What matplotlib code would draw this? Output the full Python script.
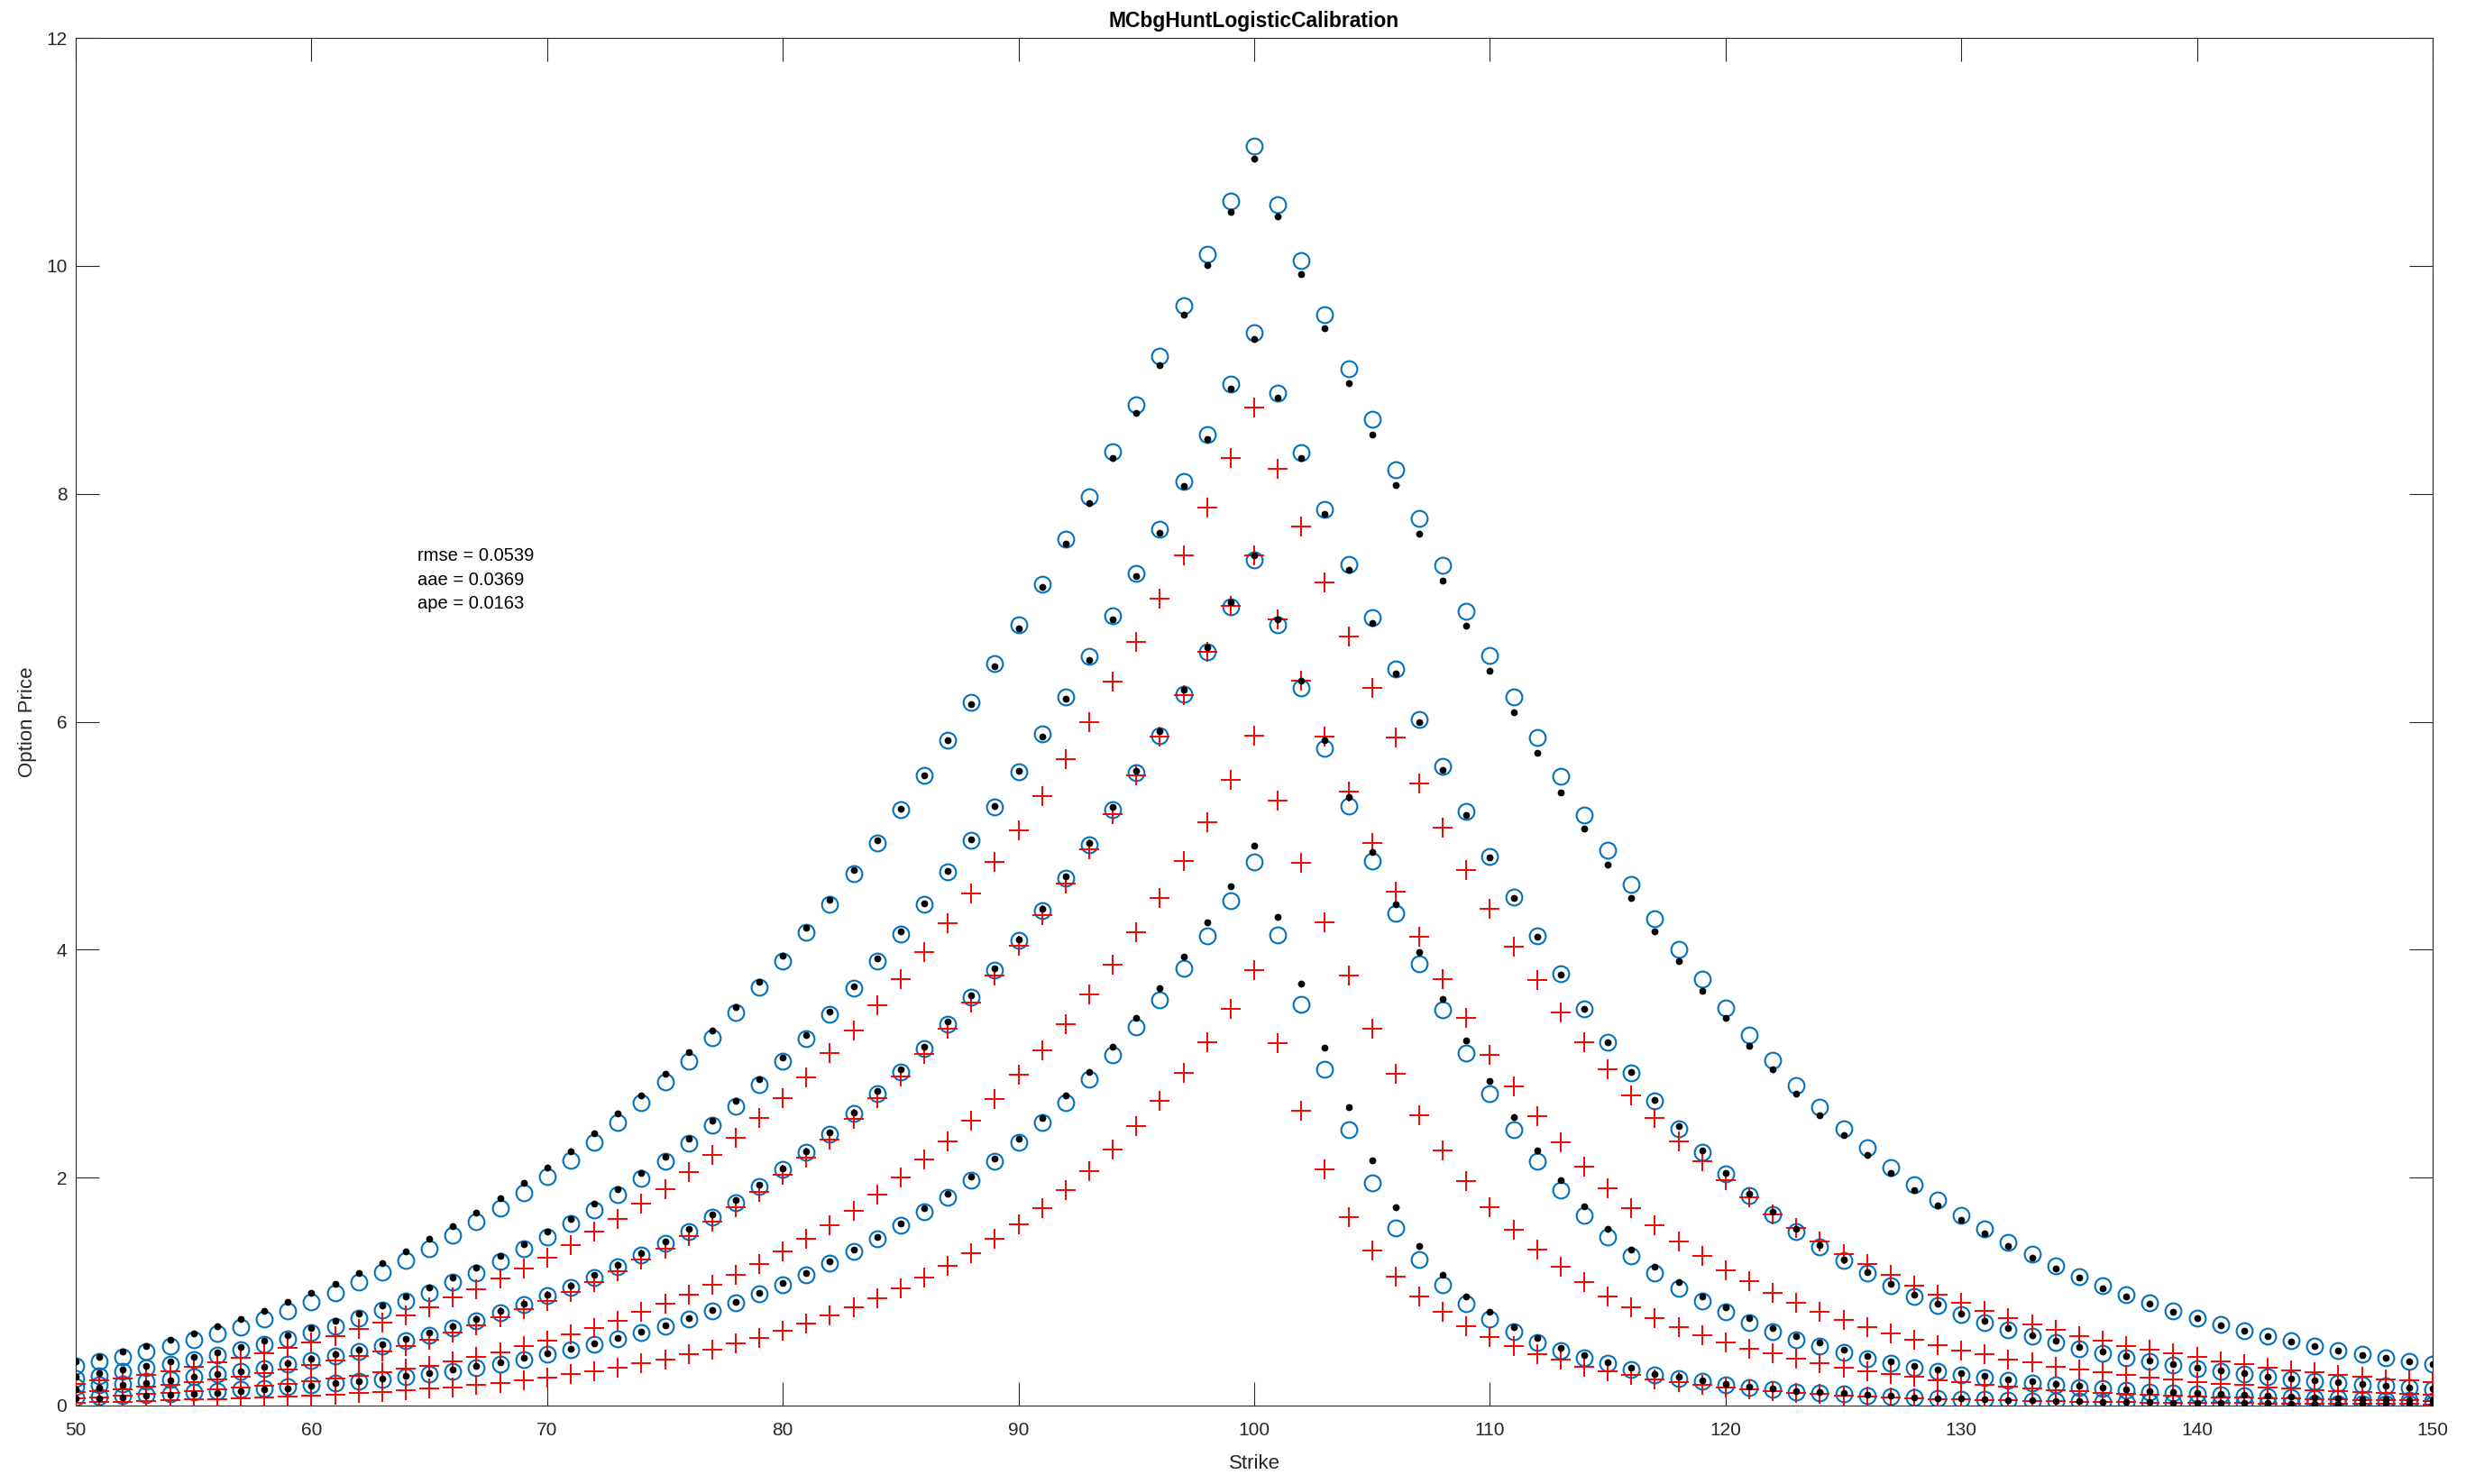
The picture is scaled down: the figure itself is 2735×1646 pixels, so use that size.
import numpy as np
import matplotlib
matplotlib.use("Agg")
import matplotlib.pyplot as plt

# strikes 50..150, one quote per strike
strikes = list(range(50, 151))

# curve 1 (longest maturity)
model_1 = [0.345, 0.39, 0.43, 0.474, 0.52, 0.574, 0.632, 0.692, 0.758, 0.83,
           0.91, 0.99, 1.08, 1.17, 1.27, 1.376, 1.495, 1.61, 1.73, 1.87,
           2.01, 2.15, 2.31, 2.48, 2.66, 2.84, 3.025, 3.23, 3.45, 3.67,
           3.90, 4.15, 4.40, 4.67, 4.94, 5.23, 5.53, 5.84, 6.17, 6.51,
           6.85, 7.21, 7.60, 7.97, 8.37, 8.78, 9.21, 9.65, 10.10, 10.57,
           11.05, 10.54, 10.05, 9.57, 9.10, 8.65, 8.21, 7.78, 7.37, 6.97,
           6.58, 6.22, 5.86, 5.52, 5.18, 4.87, 4.57, 4.27, 4.00, 3.74,
           3.49, 3.25, 3.03, 2.81, 2.62, 2.43, 2.26, 2.09, 1.94, 1.80,
           1.67, 1.55, 1.43, 1.33, 1.23, 1.13, 1.05, 0.97, 0.90, 0.83,
           0.77, 0.713, 0.66, 0.613, 0.568, 0.526, 0.486, 0.45, 0.42, 0.39, 0.363]
market_1 = [0.39, 0.43, 0.476, 0.526, 0.579, 0.634, 0.697, 0.763, 0.83, 0.91,
            0.987, 1.07, 1.16, 1.25, 1.355, 1.46, 1.574, 1.69, 1.82, 1.95,
            2.09, 2.23, 2.39, 2.56, 2.725, 2.91, 3.10, 3.29, 3.50, 3.72,
            3.95, 4.19, 4.44, 4.70, 4.96, 5.24, 5.53, 5.84, 6.155, 6.49,
            6.82, 7.18, 7.56, 7.92, 8.31, 8.71, 9.13, 9.57, 10.01, 10.47,
            10.94, 10.43, 9.93, 9.45, 8.97, 8.52, 8.08, 7.65, 7.24, 6.84,
            6.45, 6.08, 5.73, 5.38, 5.06, 4.75, 4.45, 4.16, 3.90, 3.64,
            3.40, 3.16, 2.95, 2.74, 2.55, 2.37, 2.20, 2.04, 1.89, 1.76,
            1.63, 1.51, 1.40, 1.30, 1.20, 1.12, 1.03, 0.96, 0.89, 0.82,
            0.765, 0.705, 0.655, 0.607, 0.563, 0.52, 0.482, 0.446, 0.416, 0.386, 0.36]
other_1 = [0.192, 0.218, 0.237, 0.27, 0.30, 0.337, 0.376, 0.416, 0.455, 0.503,
           0.553, 0.608, 0.67, 0.726, 0.79, 0.863, 0.947, 1.02, 1.113, 1.205,
           1.30, 1.41, 1.525, 1.64, 1.77, 1.90, 2.05, 2.20, 2.35, 2.52,
           2.70, 2.88, 3.09, 3.29, 3.51, 3.74, 3.975, 4.23, 4.49, 4.77,
           5.05, 5.35, 5.67, 6.00, 6.35, 6.70, 7.08, 7.46, 7.88, 8.31,
           8.76, 8.22, 7.71, 7.22, 6.75, 6.30, 5.86, 5.46, 5.07, 4.70,
           4.36, 4.03, 3.73, 3.45, 3.19, 2.95, 2.72, 2.52, 2.32, 2.14,
           1.98, 1.83, 1.68, 1.56, 1.44, 1.33, 1.24, 1.145, 1.055, 0.976,
           0.90, 0.834, 0.77, 0.713, 0.665, 0.613, 0.573, 0.526, 0.494, 0.455,
           0.424, 0.39, 0.36, 0.334, 0.31, 0.289, 0.27, 0.25, 0.232, 0.218, 0.205]

# curve 2
model_2 = [0.24, 0.263, 0.297, 0.33, 0.363, 0.40, 0.44, 0.487, 0.534, 0.587,
           0.64, 0.70, 0.766, 0.837, 0.916, 0.987, 1.08, 1.166, 1.266, 1.376,
           1.48, 1.60, 1.72, 1.85, 1.99, 2.14, 2.30, 2.46, 2.63, 2.82,
           3.02, 3.22, 3.43, 3.66, 3.90, 4.14, 4.40, 4.68, 4.96, 5.25,
           5.56, 5.89, 6.22, 6.57, 6.93, 7.30, 7.69, 8.11, 8.52, 8.96,
           9.41, 8.88, 8.36, 7.86, 7.38, 6.91, 6.46, 6.02, 5.61, 5.21,
           4.82, 4.46, 4.12, 3.79, 3.48, 3.19, 2.92, 2.67, 2.43, 2.22,
           2.03, 1.84, 1.68, 1.53, 1.39, 1.27, 1.16, 1.05, 0.96, 0.876,
           0.80, 0.726, 0.666, 0.608, 0.553, 0.50, 0.46, 0.42, 0.384, 0.355,
           0.324, 0.30, 0.279, 0.253, 0.232, 0.216, 0.20, 0.184, 0.171, 0.158, 0.145]
market_2 = [0.25, 0.284, 0.316, 0.35, 0.384, 0.43, 0.47, 0.516, 0.568, 0.62,
            0.68, 0.745, 0.81, 0.88, 0.955, 1.034, 1.12, 1.213, 1.31, 1.416,
            1.525, 1.64, 1.77, 1.90, 2.04, 2.18, 2.34, 2.50, 2.67, 2.86,
            3.05, 3.25, 3.46, 3.68, 3.92, 4.16, 4.41, 4.69, 4.97, 5.26,
            5.57, 5.87, 6.20, 6.54, 6.90, 7.28, 7.66, 8.07, 8.48, 8.92,
            9.36, 8.84, 8.31, 7.82, 7.33, 6.87, 6.42, 6.00, 5.58, 5.18,
            4.81, 4.45, 4.11, 3.78, 3.48, 3.19, 2.93, 2.68, 2.45, 2.24,
            2.04, 1.86, 1.70, 1.55, 1.41, 1.28, 1.17, 1.07, 0.97, 0.89,
            0.81, 0.74, 0.68, 0.62, 0.566, 0.515, 0.474, 0.434, 0.397, 0.363,
            0.33, 0.305, 0.282, 0.257, 0.236, 0.219, 0.203, 0.187, 0.173, 0.16, 0.147]
other_2 = [0.118, 0.13, 0.145, 0.163, 0.183, 0.207, 0.23, 0.257, 0.285, 0.318,
           0.353, 0.392, 0.435, 0.478, 0.525, 0.577, 0.638, 0.703, 0.773, 0.843,
           0.921, 0.998, 1.083, 1.178, 1.278, 1.378, 1.488, 1.614, 1.738, 1.878,
           2.025, 2.177, 2.337, 2.517, 2.697, 2.887, 3.087, 3.307, 3.537, 3.777,
           4.037, 4.30, 4.58, 4.88, 5.19, 5.53, 5.87, 6.235, 6.61, 7.02,
           7.46, 6.90, 6.36, 5.87, 5.39, 4.94, 4.51, 4.11, 3.74, 3.40,
           3.08, 2.80, 2.54, 2.31, 2.10, 1.91, 1.73, 1.58, 1.44, 1.31,
           1.19, 1.09, 0.99, 0.90, 0.82, 0.755, 0.69, 0.63, 0.58, 0.53,
           0.486, 0.447, 0.407, 0.376, 0.344, 0.316, 0.292, 0.265, 0.245, 0.226,
           0.205, 0.192, 0.179, 0.16, 0.147, 0.137, 0.13, 0.122, 0.113, 0.104, 0.096]

# curve 3
model_3 = [0.166, 0.179, 0.192, 0.21, 0.23, 0.253, 0.275, 0.30, 0.327, 0.36,
           0.395, 0.434, 0.477, 0.52, 0.566, 0.618, 0.68, 0.745, 0.815, 0.885,
           0.963, 1.04, 1.125, 1.22, 1.32, 1.42, 1.53, 1.656, 1.78, 1.92,
           2.07, 2.22, 2.38, 2.56, 2.74, 2.93, 3.13, 3.35, 3.58, 3.82,
           4.08, 4.34, 4.63, 4.92, 5.23, 5.55, 5.88, 6.24, 6.61, 7.01,
           7.42, 6.85, 6.30, 5.77, 5.26, 4.78, 4.32, 3.88, 3.47, 3.09,
           2.74, 2.42, 2.14, 1.89, 1.67, 1.48, 1.31, 1.16, 1.03, 0.92,
           0.82, 0.73, 0.65, 0.58, 0.52, 0.468, 0.415, 0.37, 0.33, 0.30,
           0.27, 0.245, 0.218, 0.20, 0.179, 0.16, 0.147, 0.132, 0.121, 0.11,
           0.102, 0.094, 0.087, 0.079, 0.072, 0.066, 0.06, 0.055, 0.05, 0.046, 0.042]
market_3 = [0.145, 0.16, 0.179, 0.20, 0.224, 0.25, 0.276, 0.303, 0.337, 0.368,
            0.408, 0.447, 0.49, 0.534, 0.587, 0.64, 0.697, 0.758, 0.83, 0.897,
            0.975, 1.056, 1.147, 1.234, 1.334, 1.44, 1.55, 1.68, 1.80, 1.94,
            2.08, 2.23, 2.40, 2.57, 2.76, 2.95, 3.15, 3.37, 3.60, 3.84,
            4.09, 4.36, 4.64, 4.94, 5.25, 5.57, 5.92, 6.28, 6.65, 7.05,
            7.46, 6.90, 6.36, 5.84, 5.34, 4.86, 4.40, 3.98, 3.57, 3.20,
            2.85, 2.53, 2.24, 1.98, 1.75, 1.55, 1.37, 1.22, 1.08, 0.96,
            0.86, 0.77, 0.68, 0.61, 0.55, 0.487, 0.436, 0.39, 0.35, 0.315,
            0.284, 0.258, 0.232, 0.21, 0.188, 0.171, 0.155, 0.14, 0.13, 0.118,
            0.108, 0.10, 0.092, 0.084, 0.077, 0.07, 0.064, 0.059, 0.054, 0.049, 0.045]
other_3 = [0.066, 0.074, 0.087, 0.10, 0.113, 0.126, 0.142, 0.158, 0.171, 0.187,
           0.21, 0.237, 0.258, 0.29, 0.324, 0.35, 0.39, 0.43, 0.468, 0.52,
           0.568, 0.625, 0.68, 0.744, 0.82, 0.89, 0.975, 1.06, 1.15, 1.24,
           1.35, 1.46, 1.58, 1.71, 1.85, 2.00, 2.16, 2.32, 2.50, 2.69,
           2.90, 3.12, 3.35, 3.61, 3.87, 4.15, 4.45, 4.78, 5.12, 5.49,
           5.88, 5.31, 4.76, 4.24, 3.77, 3.31, 2.91, 2.55, 2.24, 1.97,
           1.74, 1.54, 1.37, 1.22, 1.08, 0.96, 0.86, 0.77, 0.69, 0.62,
           0.555, 0.50, 0.455, 0.41, 0.37, 0.33, 0.30, 0.275, 0.25, 0.225,
           0.205, 0.185, 0.168, 0.153, 0.138, 0.125, 0.113, 0.102, 0.093, 0.086,
           0.08, 0.074, 0.069, 0.064, 0.06, 0.056, 0.053, 0.05, 0.047, 0.045, 0.043]

# curve 4 (shortest maturity)
model_4 = [0.072, 0.08, 0.088, 0.097, 0.106, 0.116, 0.127, 0.139, 0.152, 0.166,
           0.18, 0.195, 0.212, 0.23, 0.252, 0.276, 0.302, 0.33, 0.362, 0.405,
           0.45, 0.494, 0.54, 0.588, 0.64, 0.697, 0.76, 0.83, 0.90, 0.98,
           1.06, 1.15, 1.25, 1.35, 1.46, 1.58, 1.70, 1.83, 1.98, 2.14,
           2.31, 2.48, 2.66, 2.86, 3.08, 3.32, 3.56, 3.84, 4.12, 4.43,
           4.77, 4.13, 3.52, 2.95, 2.42, 1.95, 1.56, 1.28, 1.06, 0.89,
           0.76, 0.65, 0.55, 0.48, 0.42, 0.37, 0.32, 0.27, 0.24, 0.21,
           0.18, 0.16, 0.14, 0.12, 0.11, 0.10, 0.09, 0.08, 0.07, 0.063,
           0.057, 0.052, 0.047, 0.043, 0.039, 0.036, 0.033, 0.03, 0.028, 0.026,
           0.024, 0.022, 0.02, 0.019, 0.017, 0.016, 0.015, 0.014, 0.013, 0.012, 0.011]
market_4 = [0.06, 0.066, 0.074, 0.087, 0.095, 0.105, 0.113, 0.126, 0.14, 0.153,
            0.174, 0.197, 0.213, 0.237, 0.258, 0.284, 0.316, 0.345, 0.376, 0.416,
            0.455, 0.497, 0.543, 0.592, 0.645, 0.703, 0.767, 0.838, 0.91, 0.99,
            1.075, 1.165, 1.265, 1.37, 1.48, 1.60, 1.73, 1.86, 2.01, 2.17,
            2.34, 2.52, 2.72, 2.93, 3.15, 3.40, 3.66, 3.94, 4.24, 4.56,
            4.91, 4.29, 3.70, 3.14, 2.62, 2.15, 1.74, 1.40, 1.15, 0.96,
            0.82, 0.69, 0.59, 0.51, 0.44, 0.38, 0.33, 0.28, 0.25, 0.22,
            0.19, 0.17, 0.15, 0.13, 0.12, 0.11, 0.095, 0.085, 0.075, 0.067,
            0.06, 0.055, 0.05, 0.045, 0.041, 0.038, 0.035, 0.032, 0.03, 0.027,
            0.025, 0.023, 0.021, 0.02, 0.018, 0.017, 0.016, 0.015, 0.014, 0.013, 0.012]
other_4 = [0.026, 0.029, 0.034, 0.04, 0.047, 0.053, 0.057, 0.066, 0.074, 0.082,
           0.09, 0.098, 0.108, 0.12, 0.133, 0.147, 0.162, 0.18, 0.20, 0.222,
           0.247, 0.275, 0.303, 0.334, 0.372, 0.406, 0.453, 0.494, 0.547, 0.594,
           0.656, 0.72, 0.79, 0.86, 0.94, 1.025, 1.125, 1.23, 1.34, 1.46,
           1.59, 1.73, 1.89, 2.06, 2.25, 2.45, 2.67, 2.92, 3.19, 3.48,
           3.82, 3.18, 2.59, 2.07, 1.65, 1.36, 1.13, 0.96, 0.82, 0.70,
           0.60, 0.52, 0.45, 0.40, 0.34, 0.30, 0.265, 0.23, 0.205, 0.18,
           0.16, 0.14, 0.125, 0.11, 0.10, 0.09, 0.08, 0.072, 0.065, 0.059,
           0.053, 0.048, 0.044, 0.04, 0.037, 0.034, 0.031, 0.029, 0.027, 0.025,
           0.023, 0.021, 0.02, 0.018, 0.017, 0.016, 0.015, 0.014, 0.013, 0.012, 0.011]

x_ticks = [50, 60, 70, 80, 90, 100, 110, 120, 130, 140, 150]
y_ticks = [0, 2, 4, 6, 8, 10, 12]
stats_text = "rmse = 0.0539\naae = 0.0369\nape = 0.0163"

plt.rcParams['font.family'] = ['Liberation Sans', 'DejaVu Sans']
axis_col = '#262626'

W, H = 2735, 1646
fig = plt.figure(figsize=(W / 100, H / 100), dpi=100)
ax = fig.add_axes([84 / W, 1 - 1559 / H, (2698 - 84) / W, (1559 - 42) / H])

model = [model_1, model_2, model_3, model_4]
market = [market_1, market_2, market_3, market_4]
other = [other_1, other_2, other_3, other_4]

# blue circles, red crosses on top, black dots last
for m in model:
    ax.plot(strikes, m, 'o', ms=12.8, mfc='none', mec='#0072BD', mew=1.5, zorder=2)
for o in other:
    ax.plot(strikes, o, '+', ms=16.5, mec='#FF0000', mew=1.4, zorder=3)
for d in market:
    ax.plot(strikes, d, 'o', ms=5.6, mfc='black', mec='black', mew=0, zorder=4)

ax.set_xlim(50, 150)
ax.set_ylim(0, 12)
ax.set_xticks(x_ticks)
ax.set_yticks(y_ticks)

for s in ax.spines.values():
    s.set_color(axis_col)
    s.set_linewidth(0.8)
ax.tick_params(axis='both', direction='in', length=19, width=0.8, colors=axis_col,
               labelsize=15, top=True, right=True)
ax.tick_params(axis='x', pad=13)
ax.tick_params(axis='y', pad=7)

ax.set_xlabel('Strike', fontsize=16, color=axis_col, labelpad=12)
ax.set_ylabel('Option Price', fontsize=16, color=axis_col, labelpad=7)
ax.set_title('MCbgHuntLogisticCalibration', fontsize=16.5, fontweight='bold', pad=9)

ax.text(64.5, 7.245, stats_text, fontsize=14.5, ha='left', va='center',
        linespacing=1.5, color='black')

fig.savefig('out.png', dpi=100, facecolor='white')
